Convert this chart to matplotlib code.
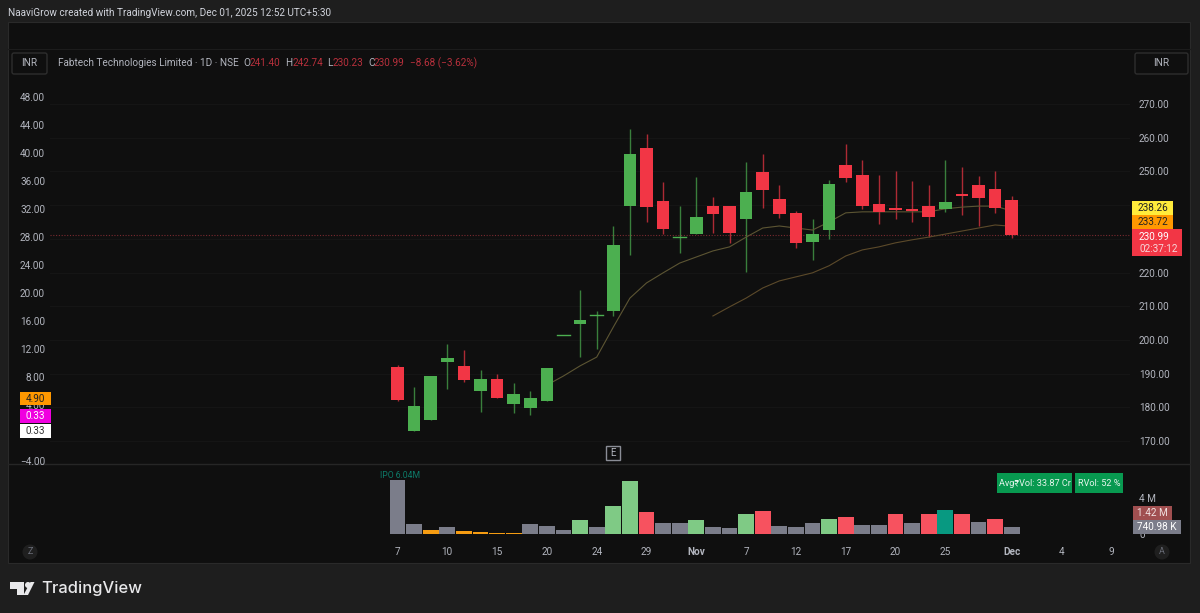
import matplotlib
matplotlib.use("Agg")
import matplotlib.pyplot as plt
from matplotlib.patches import Rectangle, FancyBboxPatch, Circle, Polygon

plt.rcParams['font.family'] = ['Roboto', 'DejaVu Sans']

# ---- data ----
opens  = [192.0,173.0,176.2,193.5,192.3,184.9,188.4,181.0,179.8,181.9,201.4,204.7,207.3,208.6,239.7,257.0,241.2,230.4,231.4,239.7,239.7,235.9,249.8,241.8,237.7,229.1,232.6,251.9,248.9,240.3,239.1,238.9,239.7,238.9,243.3,246.0,244.8,241.40]
highs  = [192.6,186.0,189.3,198.8,197.0,191.1,189.9,187.2,184.9,191.7,201.6,214.8,208.6,233.8,262.6,261.1,246.9,239.7,248.3,242.4,239.7,252.8,255.2,246.0,238.3,235.9,247.5,258.1,253.4,248.9,250.1,247.2,246.0,253.4,251.3,248.6,250.1,242.74]
lows   = [182.0,173.0,176.2,185.4,187.5,178.6,182.8,178.3,177.7,181.9,201.4,194.9,197.3,207.1,225.2,235.0,231.4,225.8,231.4,231.7,228.8,220.1,239.1,236.2,227.3,223.7,230.0,246.9,238.9,234.4,235.9,235.0,230.5,238.0,237.1,233.8,237.7,230.23]
closes = [182.2,180.4,189.3,194.6,188.1,188.4,182.8,184.0,182.8,191.7,201.6,205.9,207.5,228.2,255.2,239.4,232.9,230.6,236.5,237.4,231.7,243.9,244.5,237.4,228.8,231.4,246.3,248.0,239.7,238.0,238.6,238.3,236.5,240.9,242.7,242.1,239.1,230.99]
volumes = [6.04,1.10,0.40,0.80,0.37,0.26,0.15,0.15,1.10,0.92,0.44,1.61,0.73,3.08,5.86,2.45,1.17,1.17,1.54,0.73,0.66,2.20,2.56,0.92,0.73,1.17,1.68,1.90,0.95,0.99,2.27,1.17,2.20,2.64,2.20,1.32,1.68,0.74]
vol_kinds = ['g','g','o','g','o','o','o','o','g','g','g','u','g','u','u','d','g','g','u','g','g','u','d','g','g','g','u','d','g','g','d','g','d','t','d','g','d','g']
ma_fast_start = 9
ma_fast = [186.6,189.3,192.3,194.9,203.8,212.4,216.9,219.9,222.8,224.6,226.4,227.6,230.5,233.2,233.8,233.2,232.6,235.0,237.7,238.0,238.0,238.0,238.0,238.0,238.9,239.4,239.7,239.7,238.26]
ma_slow_start = 19
ma_slow = [207.1,209.8,212.4,215.4,217.5,218.7,219.9,222.0,224.9,226.7,227.6,228.8,229.7,230.5,231.4,232.3,233.2,234.1,233.72]
price_ticks = [170,180,190,200,210,220,230,240,250,260,270]
price_hidden = [230,240]  # covered by the price badges in the reference
left_ticks = [-4,4,8,12,16,20,24,28,32,36,40,44,48]
date_pos = [0,3,6,9,12,15,18,21,24,27,30,33,37,40,43]
date_labels = ['7','10','15','20','24','29','Nov','7','12','17','20','25','Dec','4','9']
last_close = 230.99

UP, DOWN = '#4caf50', '#f23645'
BG, PANEL = '#1e1e1e', '#0f0f0f'
TXT = '#b2b5be'
VOLC = {'g':'#7b7d8a','o':'#f59c12','u':'#7fca85','d':'#f7525f','t':'#089981'}
FS = 7.2

W, H = 1200, 613
fig = plt.figure(figsize=(12, 6.13), dpi=100, facecolor=BG)
def box(x0, y0, x1, y1):
    return [x0/W, 1-y1/H, (x1-x0)/W, (y1-y0)/H]

# background panel + overlay geometry
bg = fig.add_axes([0,0,1,1], zorder=0); bg.set_xlim(0,W); bg.set_ylim(H,0); bg.axis('off')
bg.add_patch(Rectangle((8,22),1182,541,fc=PANEL,ec='#2a2a2a',lw=0.8))
bg.plot([8,1190],[49,49],color='#1c1c1c',lw=0.8)
bg.plot([8,1190],[464,464],color='#262626',lw=1)

# price axes: 3.37 px per rupee, 16.6 px per bar
PX0, PX1 = 50, 1130
PY0, PY1 = 50, 463
xlim = ((PX0-397.5)/16.6, (PX1-397.5)/16.6)
ax = fig.add_axes(box(PX0,PY0,PX1,PY1), zorder=2)
ax.patch.set_alpha(0)
ax.set_xlim(*xlim)
ax.set_ylim(270-(PY1-104)/3.37, 270+(104-PY0)/3.37)
for s in ax.spines.values(): s.set_visible(False)
ax.set_xticks([])
ax.grid(axis='y', color='#151515', lw=0.8)
ax.set_axisbelow(True)
ax.axhline(last_close, color='#7a2a30', lw=0.8, ls=(0,(1,1.5)), zorder=1)

for i,(o,h,l,c) in enumerate(zip(opens,highs,lows,closes)):
    col = UP if c >= o else DOWN
    ax.plot([i,i],[l,h],color=col,lw=1,alpha=0.7,zorder=3,solid_capstyle='butt')
    bot, ht = min(o,c), abs(c-o)
    if ht < 0.5:
        ax.plot([i-0.38,i+0.38],[(o+c)/2]*2,color=col,lw=1,zorder=4)
    else:
        ax.bar(i, ht, bottom=bot, width=0.76, color=col, zorder=4, lw=0)
ax.plot(range(ma_fast_start,ma_fast_start+len(ma_fast)), ma_fast, color='#5c5533', lw=0.8, zorder=3.5)
ax.plot(range(ma_slow_start,ma_slow_start+len(ma_slow)), ma_slow, color='#5c4a2a', lw=0.8, zorder=3.5)

# left scale (7 px per unit, 48 at y=97)
axl = ax.twinx()
axl.patch.set_alpha(0)
axl.set_ylim(48-(PY1-97)/7, 48+(97-PY0)/7)
for s in axl.spines.values(): s.set_visible(False)
axl.yaxis.tick_left()
axl.set_yticks(left_ticks)
axl.set_yticklabels([f'{v:.2f}'.replace('-','\u2212') for v in left_ticks], color=TXT, fontsize=FS)
axl.tick_params(axis='y', length=0, pad=3.5)

# right price scale (set after twinx, which moves the ticks)
ax.yaxis.tick_right()
ax.set_yticks(price_ticks)
ax.set_yticklabels(['' if v in price_hidden else f'{v:.2f}' for v in price_ticks], color=TXT, fontsize=FS)
ax.tick_params(axis='y', length=0, pad=6.5)

# volume axes: 9 px per million, zero at y=534
VY0, VY1 = 465, 540
axv = fig.add_axes(box(PX0,VY0,PX1,VY1), zorder=2)
axv.patch.set_alpha(0)
axv.set_xlim(*xlim)
axv.set_ylim(-(VY1-534)/9, (534-VY0)/9)
for s in axv.spines.values(): s.set_visible(False)
axv.bar(range(len(volumes)), volumes, width=0.96, color=[VOLC[k] for k in vol_kinds], lw=0)
axv.yaxis.tick_right()
axv.set_yticks([0,4]); axv.set_yticklabels(['0','4 M'], color=TXT, fontsize=FS)
axv.tick_params(axis='y', length=0, pad=6.5)
axv.set_xticks(date_pos)
axv.set_xticklabels(date_labels, color=TXT, fontsize=FS)
for t,l in zip(axv.get_xticklabels(), date_labels):
    if l in ('Nov','Dec'): t.set_fontweight('bold')
axv.tick_params(axis='x', length=0, pad=5)

# overlay of labels and badges
ov = fig.add_axes([0,0,1,1], zorder=5); ov.set_xlim(0,W); ov.set_ylim(H,0); ov.axis('off'); ov.patch.set_alpha(0)
def badge(x0,y0,x1,y1,fc,txt,tc,fs=FS,**kw):
    ov.add_patch(Rectangle((x0,y0),x1-x0,y1-y0,fc=fc,ec='none'))
    ov.text((x0+x1)/2,(y0+y1)/2,txt,color=tc,fontsize=fs,ha='center',va='center',**kw)
def outline(x0,y0,x1,y1,txt):
    ov.add_patch(FancyBboxPatch((x0+2,y0+2),x1-x0-4,y1-y0-4,boxstyle='round,pad=2',fc=PANEL,ec='#2e2e2e',lw=1))
    ov.text((x0+x1)/2,(y0+y1)/2,txt,color=TXT,fontsize=FS,ha='center',va='center')

ov.text(8,13,'NaaviGrow created with TradingView.com, Dec 01, 2025 12:52 UTC+5:30',color='#d1d4dc',fontsize=FS,va='center')
outline(12,53,47,74,'INR'); outline(1135,53,1188,74,'INR')
ov.text(58,63,'Fabtech Technologies Limited \u00b7 1D \u00b7 NSE',color=TXT,fontsize=FS,va='center')
RED_T = '#b8303c'
for x,lab,xv,val in [(243,'O',250,'241.40'),(285,'H',293,'242.74'),(327,'L',333,'230.23'),(368,'C',374,'230.99')]:
    ov.text(x,63,lab,color=TXT,fontsize=FS,va='center')
    ov.text(xv,63,val,color=RED_T,fontsize=FS,va='center')
ov.text(410,63,'\u22128.68 (\u22123.62%)',color=RED_T,fontsize=FS,va='center')

badge(1132,201,1173,215,'#ffeb3b','238.26','#222222')
badge(1132,215,1173,229,'#ff9800','233.72','#222222')
ov.add_patch(Rectangle((1132,229),50,27,fc=DOWN,ec='none'))
ov.text(1139,236.5,'230.99',color='#ffffff',fontsize=FS,va='center')
ov.text(1139,248.5,'02:37:12',color='#f6d5d8',fontsize=FS,va='center')
badge(20,392,51,405,'#ff9800','4.90','#222222')
badge(20,409,51,423,'#f000e0','0.33','#ffffff')
badge(20,424,51,438,'#ffffff','0.33','#333333')

badge(1133,506,1172,520,'#a04f50','1.42 M','#f0e0e0')
badge(1133,520,1181,534,'#7b7d8a','740.98 K','#ffffff')
badge(997,473,1072,493,'#089950','Avg\u20b9Vol: 33.87 Cr','#e6f5ec',fs=6.6)
badge(1075,473,1123,493,'#089950','RVol: 52 %','#e6f5ec',fs=6.6)
ov.text(380,475,'IPO 6.04M',color='#0d7a68',fontsize=6.2,va='center')

ov.add_patch(Rectangle((606,446),14,14,fc=PANEL,ec='#8a8d96',lw=1))
ov.text(613,453,'E',color=TXT,fontsize=7,ha='center',va='center')
for cx,l in [(30,'Z'),(1162,'A')]:
    ov.add_patch(Circle((cx,552),7.5,fc='#1f1f1f',ec='none'))
    ov.text(cx,552,l,color='#6a6d78',fontsize=6.5,ha='center',va='center')

# TradingView logo
LOGO = '#e8e8ea'
ov.add_patch(Polygon([(10,582),(24,582),(24,595),(17,595),(17,589),(10,589)],fc=LOGO,ec='none'))
ov.add_patch(Circle((28,585),3,fc=LOGO,ec='none'))
ov.add_patch(Polygon([(30.5,582),(34.5,582),(28,595),(23.5,595)],fc=LOGO,ec='none'))
ov.text(41,588,'TradingView',color=LOGO,fontsize=11.9,family='Inter',fontweight='medium',va='center')

fig.savefig('out.png', dpi=100, facecolor=BG)
